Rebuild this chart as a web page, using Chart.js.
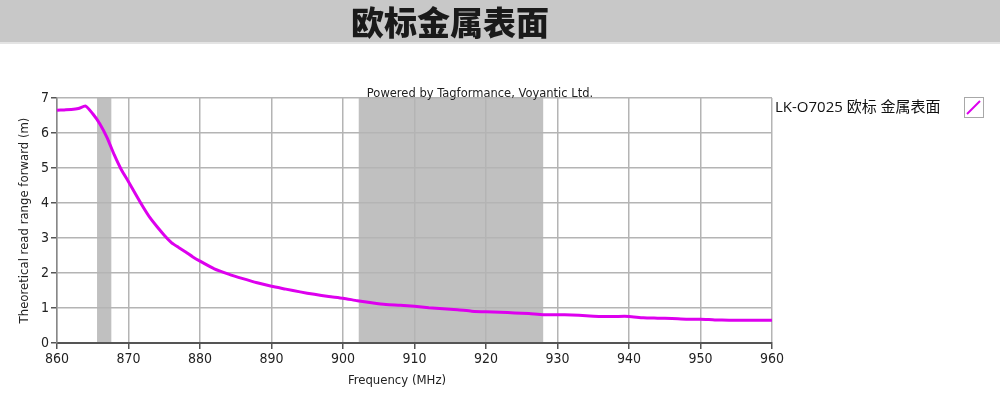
<!DOCTYPE html>
<html>
<head>
<meta charset="utf-8">
<script src="https://cdn.jsdelivr.net/npm/chart.js@4"></script>
<style>
  body { margin: 0; background: #fff; }
  #wrap { position: relative; width: 1000px; height: 400px; }
  #header {
    position: absolute; left: 0; top: 0; width: 1000px; height: 42px;
    background: #c8c8c8; border-bottom: 2px solid #e4e4e4;
  }
  #header span {
    position: absolute; left: 0; width: 900px; text-align: center; top: 0;
    font: 900 33px "Noto Sans CJK SC"; line-height: 42px; color: #1a1a1a;
  }
  canvas { position: absolute; left: 0; top: 0; }
</style>
</head>
<body>
<div id="wrap">
  <canvas id="grafico" width="1000" height="400"></canvas>
  <div id="header"><span>欧标金属表面</span></div>
</div>
<script>
// frecuencias (MHz) y alcance de lectura (m)
const freqs = [860, 861, 862, 863, 864, 865, 866, 867, 868, 869, 870, 871, 872, 873, 874, 875,
  876, 877, 878, 879, 880, 882, 884, 886, 888, 890, 892, 894, 896, 898, 900, 902, 904, 906,
  908, 910, 912, 914, 916, 918, 920, 922, 924, 926, 928, 930, 932, 934, 936, 938, 940, 942,
  944, 946, 948, 950, 952, 954, 956, 958, 960];
const readRange = [6.65, 6.66, 6.67, 6.70, 6.77, 6.55, 6.26, 5.87, 5.38, 4.95, 4.61, 4.25, 3.90,
  3.58, 3.32, 3.08, 2.87, 2.73, 2.60, 2.46, 2.34, 2.12, 1.97, 1.84, 1.72, 1.62, 1.54, 1.46,
  1.39, 1.33, 1.28, 1.21, 1.15, 1.10, 1.08, 1.05, 1.01, 0.98, 0.95, 0.91, 0.89, 0.88, 0.86,
  0.84, 0.81, 0.81, 0.80, 0.78, 0.76, 0.76, 0.76, 0.72, 0.71, 0.70, 0.68, 0.68, 0.66, 0.65,
  0.65, 0.65, 0.65];

// bandas grises (MHz)
const bandStart = [865.6, 902.2];
const bandEnd = [867.6, 928.0];

const seriesLabel = "LK-O7025 欧标 金属表面";
const poweredBy = "Powered by Tagformance, Voyantic Ltd.";
const xTitle = "Frequency (MHz)";

const bandas = {
  id: "bandas",
  beforeDraw(chart) {
    const { ctx, chartArea, scales } = chart;
    ctx.save();
    ctx.fillStyle = "#c0c0c0";
    for (let i = 0; i < bandStart.length; i++) {
      const x1 = scales.x.getPixelForValue(bandStart[i]);
      const x2 = scales.x.getPixelForValue(bandEnd[i]);
      ctx.fillRect(x1, chartArea.top, x2 - x1, chartArea.bottom - chartArea.top);
    }
    ctx.restore();
  },
  afterDraw(chart) {
    const { ctx } = chart;
    ctx.save();
    // texto "Powered by"
    ctx.fillStyle = "#222";
    ctx.font = '11.5px "DejaVu Sans"';
    ctx.textAlign = "center";
    ctx.textBaseline = "middle";
    ctx.fillText(poweredBy, 480, 94);
    // titulo del eje x (algo a la izquierda del centro)
    ctx.font = '13px "DejaVu Sans Condensed"';
    ctx.fillText(xTitle, 397, 381);
    // leyenda
    ctx.textAlign = "left";
    ctx.font = '15px "Open Sans", "Noto Sans CJK SC"';
    ctx.fillStyle = "#111";
    ctx.fillText(seriesLabel, 775, 108);
    ctx.strokeStyle = "#a8a8a8";
    ctx.lineWidth = 1;
    ctx.strokeRect(964.5, 97.5, 19, 20);
    ctx.strokeStyle = "#dd00ee";
    ctx.lineWidth = 2;
    ctx.beginPath();
    ctx.moveTo(967, 114);
    ctx.lineTo(980, 101);
    ctx.stroke();
    ctx.restore();
  },
};

new Chart(document.getElementById("grafico").getContext("2d"), {
  type: "line",
  data: {
    datasets: [
      {
        label: seriesLabel,
        data: freqs.map((f, i) => ({ x: f, y: readRange[i] })),
        borderColor: "#dd00ee",
        borderWidth: 3,
        pointRadius: 0,
        tension: 0.2,
        fill: false,
      },
    ],
  },
  options: {
    responsive: false,
    animation: false,
    layout: { padding: { top: 98, right: 228, left: 0, bottom: 0 } },
    plugins: {
      legend: { display: false },
      tooltip: { enabled: false },
    },
    scales: {
      x: {
        type: "linear",
        min: 860,
        max: 960,
        afterFit(scale) { scale.height = 57; },
        ticks: {
          stepSize: 10,
          padding: 2,
          color: "#222",
          font: { family: "DejaVu Sans Condensed", size: 14 },
        },
        grid: { color: "#b4b4b4", lineWidth: 1.5, tickColor: "#555", tickLength: 6 },
        border: { color: "#555", width: 2 },
        title: { display: false },
      },
      y: {
        min: 0,
        max: 7,
        afterFit(scale) { scale.width = 57; },
        ticks: {
          stepSize: 1,
          padding: 2,
          color: "#222",
          font: { family: "DejaVu Sans Condensed", size: 14 },
        },
        grid: { color: "#b4b4b4", lineWidth: 1.5, tickColor: "#555", tickLength: 6 },
        border: { color: "#888", width: 1.5 },
        title: {
          display: true,
          text: "Theoretical read range forward (m)",
          color: "#222",
          font: { family: "DejaVu Sans Condensed", size: 13 },
          padding: { top: 17, bottom: 0 },
        },
      },
    },
  },
  plugins: [bandas],
});
</script>
</body>
</html>
